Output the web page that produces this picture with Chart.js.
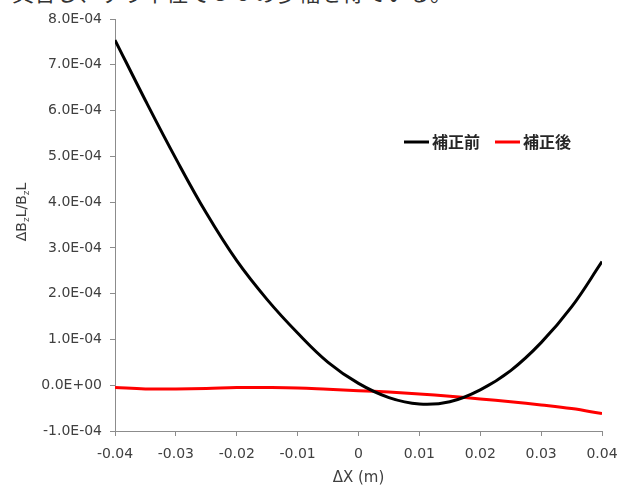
<!DOCTYPE html>
<html>
<head>
<meta charset="utf-8">
<script src="https://cdn.jsdelivr.net/npm/chart.js@4"></script>
<style>
  html, body { margin: 0; padding: 0; background: #fff; }
  #wrap { position: relative; width: 620px; height: 487px; overflow: hidden; }
  #topText {
    position: absolute; left: 12px; top: -25px; white-space: nowrap;
    font: 22px "Noto Sans CJK JP", sans-serif; color: #333;
  }
  canvas { position: absolute; left: 0; top: 0; }
</style>
</head>
<body>
<div id="wrap">
  <div id="topText">具合し、ずり半径で５０の歩幅を得ている。</div>
  <canvas id="chart" width="620" height="487"></canvas>
</div>
<script>
// ΔX (m)
const xValues = [-0.04, -0.035, -0.03, -0.025, -0.02, -0.015, -0.01, -0.005, 0,
                 0.005, 0.01, 0.015, 0.02, 0.025, 0.03, 0.035, 0.04];
// ΔBzL/BzL, units of 1e-4
const beforeCorr = [7.54, 6.22, 4.95, 3.76, 2.72, 1.87, 1.14, 0.50, 0.04,
                    -0.27, -0.41, -0.36, -0.10, 0.32, 0.93, 1.71, 2.70];
const afterCorr = [-0.05, -0.08, -0.08, -0.07, -0.05, -0.05, -0.06, -0.09, -0.12,
                   -0.15, -0.19, -0.24, -0.30, -0.36, -0.43, -0.51, -0.62];
const seriesNames = ["補正前", "補正後"];
const seriesColors = ["#000000", "#ff0000"];
const xTicks = [-0.04, -0.03, -0.02, -0.01, 0, 0.01, 0.02, 0.03, 0.04];

const fontFamily = "'DejaVu Sans', sans-serif";
const tickFont = { family: fontFamily, size: 14 };
const axisColor = "#8c8c8c";
const textColor = "#404040";

function fmtExp(v) {
  if (Math.abs(v) < 1e-12) return "0.0E+00";
  const [m, e] = v.toExponential(1).split("e");
  const n = parseInt(e, 10);
  return m + "E" + (n < 0 ? "-" : "+") + String(Math.abs(n)).padStart(2, "0");
}

function toPoints(vals) {
  return xValues.map((x, i) => ({ x: x, y: vals[i] * 1e-4 }));
}

const extras = {
  id: "extras",
  afterDraw(chart) {
    const ctx = chart.ctx;
    const area = chart.chartArea;
    ctx.save();
    ctx.fillStyle = textColor;

    // y title with subscripts
    ctx.translate(22, 212);
    ctx.rotate(-Math.PI / 2);
    const parts = [["ΔB", 0], ["z", 1], ["L/B", 0], ["z", 1], ["L", 0]];
    const big = "14px " + fontFamily;
    const small = "9px " + fontFamily;
    let w = 0;
    parts.forEach(p => { ctx.font = p[1] ? small : big; w += ctx.measureText(p[0]).width; });
    let cx = -w / 2;
    ctx.textBaseline = "middle";
    parts.forEach(p => {
      ctx.font = p[1] ? small : big;
      ctx.fillText(p[0], cx, p[1] ? 5 : 0);
      cx += ctx.measureText(p[0]).width;
    });
    ctx.restore();

    // x title
    ctx.save();
    ctx.fillStyle = textColor;
    ctx.font = "15px " + fontFamily;
    ctx.textAlign = "center";
    ctx.textBaseline = "middle";
    ctx.fillText("ΔX (m)", (area.left + area.right) / 2, 478);
    ctx.restore();

    // legend
    ctx.save();
    ctx.font = "bold 16px 'Noto Sans CJK JP', sans-serif";
    ctx.textBaseline = "middle";
    let lx = 404;
    const ly = 142;
    seriesNames.forEach((name, i) => {
      ctx.strokeStyle = seriesColors[i];
      ctx.lineWidth = 3;
      ctx.beginPath();
      ctx.moveTo(lx, ly);
      ctx.lineTo(lx + 25, ly);
      ctx.stroke();
      ctx.fillStyle = "#262626";
      ctx.fillText(name, lx + 28, ly);
      lx += 28 + ctx.measureText(name).width + 15;
    });
    ctx.restore();
  }
};

new Chart(document.getElementById("chart"), {
  type: "line",
  data: {
    datasets: [
      { label: seriesNames[0], data: toPoints(beforeCorr), borderColor: seriesColors[0],
        borderWidth: 3, pointRadius: 0, tension: 0.4, fill: false },
      { label: seriesNames[1], data: toPoints(afterCorr), borderColor: seriesColors[1],
        borderWidth: 3, pointRadius: 0, tension: 0.4, fill: false }
    ]
  },
  options: {
    responsive: false,
    animation: false,
    layout: { padding: { left: 0, right: 18, top: 19, bottom: 0 } },
    plugins: { legend: { display: false }, tooltip: { enabled: false } },
    scales: {
      x: {
        type: "linear",
        min: -0.04,
        max: 0.04,
        afterBuildTicks: s => { s.ticks = xTicks.map(v => ({ value: v })); },
        afterFit: s => { s.height = 56; s.paddingLeft = 0; s.paddingRight = 0; },
        ticks: {
          font: tickFont, color: textColor, padding: 10, maxRotation: 0,
          callback: v => (Math.abs(v) < 1e-9 ? "0" : String(+v.toFixed(2)))
        },
        grid: { drawOnChartArea: false, tickLength: 5, color: axisColor },
        border: { color: axisColor }
      },
      y: {
        min: -1e-4,
        max: 8e-4,
        afterFit: s => { s.width = 115; s.paddingTop = 0; s.paddingBottom = 0; },
        ticks: { stepSize: 1e-4, font: tickFont, color: textColor, padding: 8, callback: v => fmtExp(v) },
        grid: { drawOnChartArea: false, tickLength: 5, color: axisColor },
        border: { color: axisColor }
      }
    }
  },
  plugins: [extras]
});
</script>
</body>
</html>
